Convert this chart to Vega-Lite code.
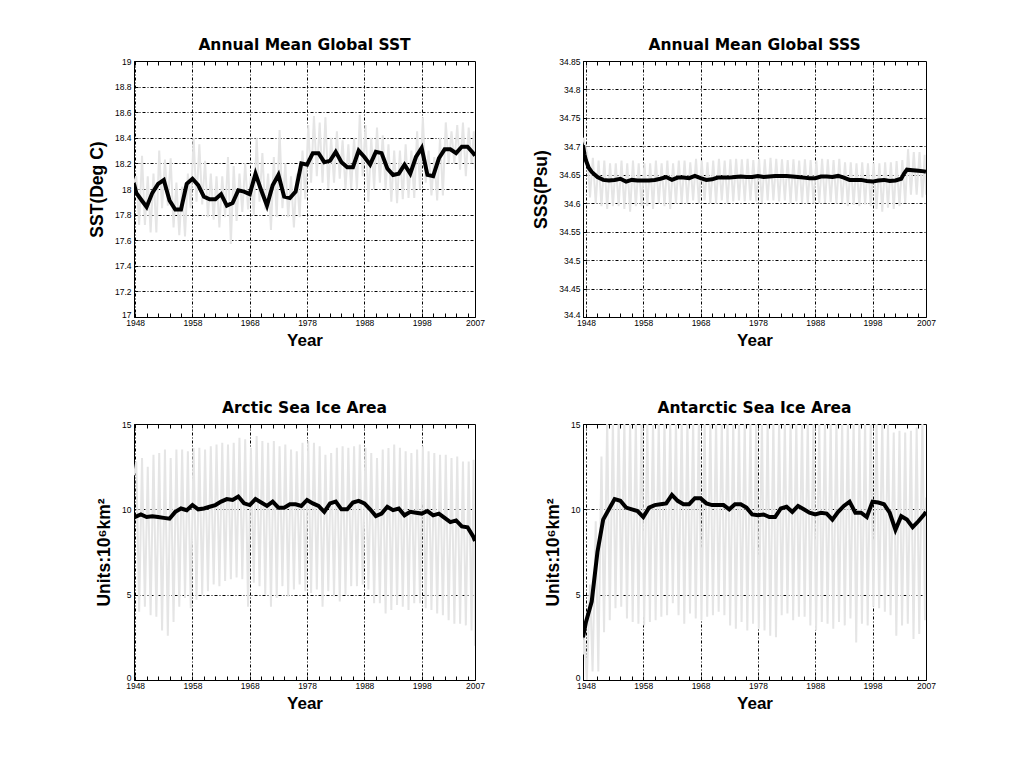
{
"$schema":"https://vega.github.io/schema/vega-lite/v6.json",
"background":"white",
"padding":{"left":87,"top":37,"right":5,"bottom":5},
"datasets":{
"sst_m":[{"t":1947.8,"v":18.05},{"t":1948.2,"v":18.1},{"t":1948.7,"v":17.72},{"t":1949.2,"v":18.26},{"t":1949.7,"v":17.72},{"t":1950.2,"v":18.1},{"t":1950.7,"v":17.66},{"t":1951.2,"v":18.12},{"t":1951.7,"v":17.66},{"t":1952.2,"v":18.3},{"t":1952.7,"v":17.85},{"t":1953.2,"v":18.23},{"t":1953.7,"v":17.87},{"t":1954.2,"v":18.24},{"t":1954.7,"v":17.7},{"t":1955.2,"v":18.05},{"t":1955.7,"v":17.64},{"t":1956.2,"v":18.02},{"t":1956.7,"v":17.63},{"t":1957.2,"v":18.12},{"t":1957.7,"v":17.85},{"t":1958.2,"v":18.4},{"t":1958.7,"v":17.9},{"t":1959.2,"v":18.35},{"t":1959.7,"v":17.88},{"t":1960.2,"v":18.22},{"t":1960.7,"v":17.78},{"t":1961.2,"v":18.12},{"t":1961.7,"v":17.76},{"t":1962.2,"v":18.1},{"t":1962.7,"v":17.7},{"t":1963.2,"v":18.1},{"t":1963.7,"v":17.78},{"t":1964.2,"v":18.25},{"t":1964.7,"v":17.57},{"t":1965.2,"v":18.18},{"t":1965.7,"v":17.75},{"t":1966.2,"v":18.12},{"t":1966.7,"v":17.82},{"t":1967.2,"v":18.2},{"t":1967.7,"v":17.84},{"t":1968.2,"v":18.1},{"t":1968.7,"v":17.8},{"t":1969.2,"v":18.4},{"t":1969.7,"v":17.9},{"t":1970.2,"v":18.28},{"t":1970.7,"v":17.84},{"t":1971.2,"v":18.12},{"t":1971.7,"v":17.68},{"t":1972.2,"v":18.25},{"t":1972.7,"v":17.78},{"t":1973.2,"v":18.46},{"t":1973.7,"v":17.85},{"t":1974.2,"v":18.2},{"t":1974.7,"v":17.78},{"t":1975.2,"v":18.1},{"t":1975.7,"v":17.7},{"t":1976.2,"v":18.12},{"t":1976.7,"v":17.78},{"t":1977.2,"v":18.3},{"t":1977.7,"v":17.92},{"t":1978.2,"v":18.5},{"t":1978.7,"v":18.05},{"t":1979.2,"v":18.57},{"t":1979.7,"v":18.1},{"t":1980.2,"v":18.52},{"t":1980.7,"v":18.05},{"t":1981.2,"v":18.56},{"t":1981.7,"v":18.0},{"t":1982.2,"v":18.4},{"t":1982.7,"v":18.05},{"t":1983.2,"v":18.45},{"t":1983.7,"v":18.08},{"t":1984.2,"v":18.38},{"t":1984.7,"v":18.0},{"t":1985.2,"v":18.35},{"t":1985.7,"v":18.0},{"t":1986.2,"v":18.4},{"t":1986.7,"v":18.0},{"t":1987.2,"v":18.58},{"t":1987.7,"v":18.1},{"t":1988.2,"v":18.5},{"t":1988.7,"v":17.9},{"t":1989.2,"v":18.4},{"t":1989.7,"v":18.0},{"t":1990.2,"v":18.48},{"t":1990.7,"v":18.05},{"t":1991.2,"v":18.42},{"t":1991.7,"v":18.0},{"t":1992.2,"v":18.35},{"t":1992.7,"v":17.9},{"t":1993.2,"v":18.3},{"t":1993.7,"v":17.89},{"t":1994.2,"v":18.3},{"t":1994.7,"v":17.92},{"t":1995.2,"v":18.35},{"t":1995.7,"v":17.93},{"t":1996.2,"v":18.3},{"t":1996.7,"v":17.93},{"t":1997.2,"v":18.45},{"t":1997.7,"v":18.0},{"t":1998.2,"v":18.56},{"t":1998.7,"v":18.05},{"t":1999.2,"v":18.3},{"t":1999.7,"v":17.95},{"t":2000.2,"v":18.25},{"t":2000.7,"v":17.91},{"t":2001.2,"v":18.4},{"t":2001.7,"v":17.95},{"t":2002.2,"v":18.52},{"t":2002.7,"v":18.2},{"t":2003.2,"v":18.45},{"t":2003.7,"v":18.2},{"t":2004.2,"v":18.5},{"t":2004.7,"v":18.15},{"t":2005.2,"v":18.52},{"t":2005.7,"v":18.1},{"t":2006.2,"v":18.48},{"t":2006.7,"v":18.2},{"t":2007.1,"v":18.45},{"t":2007.3,"v":18.15}],
"sst_a":[{"t":1947.8,"v":18.04},{"t":1948.2,"v":17.97},{"t":1949,"v":17.92},{"t":1950,"v":17.86},{"t":1951,"v":17.97},{"t":1952,"v":18.04},{"t":1953,"v":18.07},{"t":1954,"v":17.91},{"t":1955,"v":17.84},{"t":1956,"v":17.84},{"t":1957,"v":18.04},{"t":1958,"v":18.08},{"t":1959,"v":18.03},{"t":1960,"v":17.94},{"t":1961,"v":17.92},{"t":1962,"v":17.92},{"t":1963,"v":17.96},{"t":1964,"v":17.87},{"t":1965,"v":17.89},{"t":1966,"v":17.99},{"t":1967,"v":17.98},{"t":1968,"v":17.96},{"t":1969,"v":18.12},{"t":1970,"v":17.99},{"t":1971,"v":17.87},{"t":1972,"v":18.03},{"t":1973,"v":18.11},{"t":1974,"v":17.94},{"t":1975,"v":17.93},{"t":1976,"v":17.98},{"t":1977,"v":18.2},{"t":1978,"v":18.19},{"t":1979,"v":18.28},{"t":1980,"v":18.28},{"t":1981,"v":18.21},{"t":1982,"v":18.22},{"t":1983,"v":18.29},{"t":1984,"v":18.21},{"t":1985,"v":18.17},{"t":1986,"v":18.17},{"t":1987,"v":18.3},{"t":1988,"v":18.25},{"t":1989,"v":18.19},{"t":1990,"v":18.29},{"t":1991,"v":18.28},{"t":1992,"v":18.16},{"t":1993,"v":18.11},{"t":1994,"v":18.12},{"t":1995,"v":18.19},{"t":1996,"v":18.12},{"t":1997,"v":18.25},{"t":1998,"v":18.32},{"t":1999,"v":18.11},{"t":2000,"v":18.1},{"t":2001,"v":18.24},{"t":2002,"v":18.31},{"t":2003,"v":18.31},{"t":2004,"v":18.28},{"t":2005,"v":18.33},{"t":2006,"v":18.33},{"t":2007,"v":18.28},{"t":2007.3,"v":18.26}],
"sss_m":[{"t":1947.48,"v":34.715},{"t":1948.2,"v":34.69},{"t":1948.7,"v":34.61},{"t":1949.2,"v":34.68},{"t":1949.7,"v":34.6},{"t":1950.2,"v":34.675},{"t":1950.7,"v":34.595},{"t":1951.2,"v":34.675},{"t":1951.7,"v":34.59},{"t":1952.2,"v":34.67},{"t":1952.7,"v":34.595},{"t":1953.2,"v":34.67},{"t":1953.7,"v":34.595},{"t":1954.2,"v":34.675},{"t":1954.7,"v":34.59},{"t":1955.2,"v":34.67},{"t":1955.7,"v":34.585},{"t":1956.2,"v":34.675},{"t":1956.7,"v":34.595},{"t":1957.2,"v":34.67},{"t":1957.7,"v":34.595},{"t":1958.2,"v":34.67},{"t":1958.7,"v":34.595},{"t":1959.2,"v":34.67},{"t":1959.7,"v":34.59},{"t":1960.2,"v":34.675},{"t":1960.7,"v":34.6},{"t":1961.2,"v":34.67},{"t":1961.7,"v":34.595},{"t":1962.2,"v":34.675},{"t":1962.7,"v":34.59},{"t":1963.2,"v":34.67},{"t":1963.7,"v":34.6},{"t":1964.2,"v":34.675},{"t":1964.7,"v":34.6},{"t":1965.2,"v":34.675},{"t":1965.7,"v":34.6},{"t":1966.2,"v":34.672},{"t":1966.7,"v":34.605},{"t":1967.2,"v":34.678},{"t":1967.7,"v":34.6},{"t":1968.2,"v":34.675},{"t":1968.7,"v":34.605},{"t":1969.2,"v":34.672},{"t":1969.7,"v":34.6},{"t":1970.2,"v":34.675},{"t":1970.7,"v":34.6},{"t":1971.2,"v":34.678},{"t":1971.7,"v":34.605},{"t":1972.2,"v":34.675},{"t":1972.7,"v":34.6},{"t":1973.2,"v":34.677},{"t":1973.7,"v":34.603},{"t":1974.2,"v":34.678},{"t":1974.7,"v":34.605},{"t":1975.2,"v":34.677},{"t":1975.7,"v":34.603},{"t":1976.2,"v":34.678},{"t":1976.7,"v":34.605},{"t":1977.2,"v":34.676},{"t":1977.7,"v":34.603},{"t":1978.2,"v":34.678},{"t":1978.7,"v":34.6},{"t":1979.2,"v":34.677},{"t":1979.7,"v":34.605},{"t":1980.2,"v":34.68},{"t":1980.7,"v":34.605},{"t":1981.2,"v":34.678},{"t":1981.7,"v":34.603},{"t":1982.2,"v":34.677},{"t":1982.7,"v":34.605},{"t":1983.2,"v":34.676},{"t":1983.7,"v":34.6},{"t":1984.2,"v":34.677},{"t":1984.7,"v":34.603},{"t":1985.2,"v":34.675},{"t":1985.7,"v":34.6},{"t":1986.2,"v":34.677},{"t":1986.7,"v":34.6},{"t":1987.2,"v":34.676},{"t":1987.7,"v":34.6},{"t":1988.2,"v":34.675},{"t":1988.7,"v":34.6},{"t":1989.2,"v":34.678},{"t":1989.7,"v":34.6},{"t":1990.2,"v":34.677},{"t":1990.7,"v":34.602},{"t":1991.2,"v":34.676},{"t":1991.7,"v":34.6},{"t":1992.2,"v":34.678},{"t":1992.7,"v":34.6},{"t":1993.2,"v":34.672},{"t":1993.7,"v":34.595},{"t":1994.2,"v":34.672},{"t":1994.7,"v":34.597},{"t":1995.2,"v":34.67},{"t":1995.7,"v":34.595},{"t":1996.2,"v":34.672},{"t":1996.7,"v":34.598},{"t":1997.2,"v":34.67},{"t":1997.7,"v":34.595},{"t":1998.2,"v":34.67},{"t":1998.7,"v":34.59},{"t":1999.2,"v":34.67},{"t":1999.7,"v":34.585},{"t":2000.2,"v":34.672},{"t":2000.7,"v":34.592},{"t":2001.2,"v":34.672},{"t":2001.7,"v":34.59},{"t":2002.2,"v":34.674},{"t":2002.7,"v":34.595},{"t":2003.2,"v":34.676},{"t":2003.7,"v":34.6},{"t":2004.2,"v":34.695},{"t":2004.7,"v":34.615},{"t":2005.2,"v":34.69},{"t":2005.7,"v":34.615},{"t":2006.2,"v":34.69},{"t":2006.7,"v":34.61},{"t":2007.1,"v":34.685},{"t":2007.33,"v":34.615}],
"sss_a":[{"t":1947.48,"v":34.702},{"t":1947.75,"v":34.685},{"t":1948,"v":34.675},{"t":1948.5,"v":34.662},{"t":1949,"v":34.655},{"t":1950,"v":34.646},{"t":1951,"v":34.641},{"t":1952,"v":34.64},{"t":1953,"v":34.641},{"t":1954,"v":34.643},{"t":1955,"v":34.638},{"t":1956,"v":34.641},{"t":1957,"v":34.64},{"t":1958,"v":34.64},{"t":1959,"v":34.64},{"t":1960,"v":34.641},{"t":1961,"v":34.643},{"t":1962,"v":34.646},{"t":1963,"v":34.641},{"t":1964,"v":34.645},{"t":1965,"v":34.645},{"t":1966,"v":34.644},{"t":1967,"v":34.648},{"t":1968,"v":34.644},{"t":1969,"v":34.641},{"t":1970,"v":34.642},{"t":1971,"v":34.645},{"t":1972,"v":34.645},{"t":1973,"v":34.645},{"t":1974,"v":34.646},{"t":1975,"v":34.647},{"t":1976,"v":34.646},{"t":1977,"v":34.646},{"t":1978,"v":34.648},{"t":1979,"v":34.646},{"t":1980,"v":34.647},{"t":1981,"v":34.648},{"t":1982,"v":34.648},{"t":1983,"v":34.648},{"t":1984,"v":34.647},{"t":1985,"v":34.646},{"t":1986,"v":34.645},{"t":1987,"v":34.644},{"t":1988,"v":34.644},{"t":1989,"v":34.647},{"t":1990,"v":34.647},{"t":1991,"v":34.646},{"t":1992,"v":34.648},{"t":1993,"v":34.645},{"t":1994,"v":34.641},{"t":1995,"v":34.641},{"t":1996,"v":34.641},{"t":1997,"v":34.639},{"t":1998,"v":34.638},{"t":1999,"v":34.64},{"t":2000,"v":34.641},{"t":2001,"v":34.639},{"t":2002,"v":34.64},{"t":2003,"v":34.643},{"t":2003.5,"v":34.652},{"t":2004,"v":34.659},{"t":2005,"v":34.658},{"t":2006,"v":34.657},{"t":2007,"v":34.656},{"t":2007.33,"v":34.655}],
"arc_m":[{"t":1947.8,"v":12.0},{"t":1948.2,"v":12.8},{"t":1948.7,"v":4.0},{"t":1949.2,"v":13.0},{"t":1949.7,"v":4.3},{"t":1950.2,"v":12.5},{"t":1950.7,"v":3.8},{"t":1951.2,"v":13.2},{"t":1951.7,"v":3.7},{"t":1952.2,"v":13.3},{"t":1952.7,"v":2.9},{"t":1953.2,"v":13.5},{"t":1953.7,"v":2.6},{"t":1954.2,"v":13.0},{"t":1954.7,"v":3.4},{"t":1955.2,"v":13.5},{"t":1955.7,"v":4.3},{"t":1956.2,"v":13.5},{"t":1956.7,"v":4.8},{"t":1957.2,"v":13.4},{"t":1957.7,"v":4.2},{"t":1958.2,"v":13.6},{"t":1958.7,"v":4.7},{"t":1959.2,"v":13.6},{"t":1959.7,"v":5.0},{"t":1960.2,"v":13.5},{"t":1960.7,"v":5.2},{"t":1961.2,"v":13.7},{"t":1961.7,"v":5.6},{"t":1962.2,"v":13.8},{"t":1962.7,"v":5.5},{"t":1963.2,"v":13.9},{"t":1963.7,"v":5.8},{"t":1964.2,"v":13.8},{"t":1964.7,"v":5.9},{"t":1965.2,"v":13.9},{"t":1965.7,"v":6.0},{"t":1966.2,"v":14.2},{"t":1966.7,"v":5.9},{"t":1967.2,"v":14.1},{"t":1967.7,"v":4.3},{"t":1968.2,"v":13.6},{"t":1968.7,"v":5.7},{"t":1969.2,"v":14.3},{"t":1969.7,"v":5.5},{"t":1970.2,"v":14.0},{"t":1970.7,"v":5.0},{"t":1971.2,"v":13.9},{"t":1971.7,"v":4.3},{"t":1972.2,"v":14.0},{"t":1972.7,"v":4.8},{"t":1973.2,"v":13.7},{"t":1973.7,"v":5.5},{"t":1974.2,"v":13.8},{"t":1974.7,"v":4.9},{"t":1975.2,"v":13.5},{"t":1975.7,"v":5.3},{"t":1976.2,"v":13.4},{"t":1976.7,"v":5.6},{"t":1977.2,"v":13.9},{"t":1977.7,"v":5.2},{"t":1978.2,"v":14.0},{"t":1978.7,"v":5.1},{"t":1979.2,"v":13.9},{"t":1979.7,"v":5.3},{"t":1980.2,"v":13.7},{"t":1980.7,"v":4.3},{"t":1981.2,"v":13.2},{"t":1981.7,"v":5.2},{"t":1982.2,"v":13.3},{"t":1982.7,"v":4.9},{"t":1983.2,"v":13.6},{"t":1983.7,"v":4.6},{"t":1984.2,"v":13.7},{"t":1984.7,"v":5.0},{"t":1985.2,"v":13.6},{"t":1985.7,"v":5.5},{"t":1986.2,"v":13.7},{"t":1986.7,"v":5.5},{"t":1987.2,"v":13.8},{"t":1987.7,"v":5.6},{"t":1988.2,"v":13.6},{"t":1988.7,"v":5.3},{"t":1989.2,"v":13.3},{"t":1989.7,"v":4.5},{"t":1990.2,"v":13.0},{"t":1990.7,"v":4.5},{"t":1991.2,"v":13.5},{"t":1991.7,"v":3.9},{"t":1992.2,"v":13.6},{"t":1992.7,"v":4.1},{"t":1993.2,"v":13.8},{"t":1993.7,"v":4.4},{"t":1994.2,"v":13.6},{"t":1994.7,"v":4.3},{"t":1995.2,"v":13.4},{"t":1995.7,"v":4.1},{"t":1996.2,"v":13.3},{"t":1996.7,"v":4.5},{"t":1997.2,"v":13.5},{"t":1997.7,"v":4.5},{"t":1998.2,"v":13.7},{"t":1998.7,"v":4.2},{"t":1999.2,"v":13.4},{"t":1999.7,"v":4.1},{"t":2000.2,"v":13.3},{"t":2000.7,"v":3.9},{"t":2001.2,"v":13.2},{"t":2001.7,"v":3.8},{"t":2002.2,"v":13.2},{"t":2002.7,"v":3.5},{"t":2003.2,"v":13.0},{"t":2003.7,"v":3.3},{"t":2004.2,"v":13.1},{"t":2004.7,"v":3.3},{"t":2005.2,"v":12.8},{"t":2005.7,"v":3.2},{"t":2006.2,"v":12.8},{"t":2006.7,"v":2.9},{"t":2007.05,"v":12.9},{"t":2007.3,"v":2.0}],
"arc_a":[{"t":1947.8,"v":9.5},{"t":1948,"v":9.55},{"t":1949,"v":9.7},{"t":1950,"v":9.55},{"t":1951,"v":9.6},{"t":1952,"v":9.55},{"t":1953,"v":9.5},{"t":1954,"v":9.45},{"t":1955,"v":9.85},{"t":1956,"v":10.05},{"t":1957,"v":9.95},{"t":1958,"v":10.25},{"t":1959,"v":10.0},{"t":1960,"v":10.05},{"t":1961,"v":10.15},{"t":1962,"v":10.25},{"t":1963,"v":10.45},{"t":1964,"v":10.6},{"t":1965,"v":10.55},{"t":1966,"v":10.75},{"t":1967,"v":10.35},{"t":1968,"v":10.25},{"t":1969,"v":10.6},{"t":1970,"v":10.4},{"t":1971,"v":10.2},{"t":1972,"v":10.45},{"t":1973,"v":10.1},{"t":1974,"v":10.1},{"t":1975,"v":10.3},{"t":1976,"v":10.3},{"t":1977,"v":10.2},{"t":1978,"v":10.55},{"t":1979,"v":10.35},{"t":1980,"v":10.2},{"t":1981,"v":9.85},{"t":1982,"v":10.35},{"t":1983,"v":10.45},{"t":1984,"v":10.0},{"t":1985,"v":10.0},{"t":1986,"v":10.4},{"t":1987,"v":10.5},{"t":1988,"v":10.35},{"t":1989,"v":10.0},{"t":1990,"v":9.6},{"t":1991,"v":9.75},{"t":1992,"v":10.15},{"t":1993,"v":9.95},{"t":1994,"v":10.05},{"t":1995,"v":9.65},{"t":1996,"v":9.85},{"t":1997,"v":9.8},{"t":1998,"v":9.75},{"t":1999,"v":9.9},{"t":2000,"v":9.65},{"t":2001,"v":9.75},{"t":2002,"v":9.5},{"t":2003,"v":9.25},{"t":2004,"v":9.35},{"t":2005,"v":9.0},{"t":2006,"v":8.95},{"t":2007,"v":8.4},{"t":2007.3,"v":8.15}],
"ant_m":[{"t":1947.48,"v":1.5},{"t":1947.7,"v":2.5},{"t":1948.15,"v":0.0},{"t":1948.7,"v":5.6},{"t":1949.15,"v":0.5},{"t":1949.7,"v":9.3},{"t":1950.15,"v":0.5},{"t":1950.7,"v":13.1},{"t":1951.15,"v":2.8},{"t":1951.7,"v":15.3},{"t":1952.15,"v":3.5},{"t":1952.7,"v":15.3},{"t":1953.15,"v":4.2},{"t":1953.7,"v":15.3},{"t":1954.15,"v":4.3},{"t":1954.7,"v":15.3},{"t":1955.15,"v":3.6},{"t":1955.7,"v":15.3},{"t":1956.15,"v":3.4},{"t":1956.7,"v":15.3},{"t":1957.15,"v":3.3},{"t":1957.7,"v":15.3},{"t":1958.15,"v":3.2},{"t":1958.7,"v":15.3},{"t":1959.15,"v":3.4},{"t":1959.7,"v":15.3},{"t":1960.15,"v":3.5},{"t":1960.7,"v":15.3},{"t":1961.15,"v":3.7},{"t":1961.7,"v":15.3},{"t":1962.15,"v":3.8},{"t":1962.7,"v":15.3},{"t":1963.15,"v":4.5},{"t":1963.7,"v":15.3},{"t":1964.15,"v":3.8},{"t":1964.7,"v":15.3},{"t":1965.15,"v":3.3},{"t":1965.7,"v":15.3},{"t":1966.15,"v":3.9},{"t":1966.7,"v":15.3},{"t":1967.15,"v":3.6},{"t":1967.7,"v":15.3},{"t":1968.15,"v":3.5},{"t":1968.7,"v":15.3},{"t":1969.15,"v":3.7},{"t":1969.7,"v":15.3},{"t":1970.15,"v":3.8},{"t":1970.7,"v":15.3},{"t":1971.15,"v":4.0},{"t":1971.7,"v":15.3},{"t":1972.15,"v":3.8},{"t":1972.7,"v":15.3},{"t":1973.15,"v":3.2},{"t":1973.7,"v":15.3},{"t":1974.15,"v":3.0},{"t":1974.7,"v":15.3},{"t":1975.15,"v":3.4},{"t":1975.7,"v":15.3},{"t":1976.15,"v":2.9},{"t":1976.7,"v":15.3},{"t":1977.15,"v":3.3},{"t":1977.7,"v":15.3},{"t":1978.15,"v":3.0},{"t":1978.7,"v":15.3},{"t":1979.15,"v":2.9},{"t":1979.7,"v":15.3},{"t":1980.15,"v":2.6},{"t":1980.7,"v":15.3},{"t":1981.15,"v":2.5},{"t":1981.7,"v":15.3},{"t":1982.15,"v":3.8},{"t":1982.7,"v":15.3},{"t":1983.15,"v":3.9},{"t":1983.7,"v":15.3},{"t":1984.15,"v":3.5},{"t":1984.7,"v":15.3},{"t":1985.15,"v":3.7},{"t":1985.7,"v":15.3},{"t":1986.15,"v":3.7},{"t":1986.7,"v":15.3},{"t":1987.15,"v":3.2},{"t":1987.7,"v":15.3},{"t":1988.15,"v":2.9},{"t":1988.7,"v":15.3},{"t":1989.15,"v":3.4},{"t":1989.7,"v":15.3},{"t":1990.15,"v":3.3},{"t":1990.7,"v":15.3},{"t":1991.15,"v":3.0},{"t":1991.7,"v":15.3},{"t":1992.15,"v":3.4},{"t":1992.7,"v":15.3},{"t":1993.15,"v":3.2},{"t":1993.7,"v":15.3},{"t":1994.15,"v":3.6},{"t":1994.7,"v":15.3},{"t":1995.15,"v":2.2},{"t":1995.7,"v":15.3},{"t":1996.15,"v":3.3},{"t":1996.7,"v":15.3},{"t":1997.15,"v":3.2},{"t":1997.7,"v":15.3},{"t":1998.15,"v":4.3},{"t":1998.7,"v":15.3},{"t":1999.15,"v":4.2},{"t":1999.7,"v":15.3},{"t":2000.15,"v":4.0},{"t":2000.7,"v":15.0},{"t":2001.15,"v":3.8},{"t":2001.7,"v":14.5},{"t":2002.15,"v":2.6},{"t":2002.7,"v":14.6},{"t":2003.15,"v":3.2},{"t":2003.7,"v":14.5},{"t":2004.15,"v":3.3},{"t":2004.7,"v":14.6},{"t":2005.15,"v":2.4},{"t":2005.7,"v":14.8},{"t":2006.15,"v":2.7},{"t":2006.7,"v":15.3},{"t":2007.15,"v":3.5},{"t":2007.33,"v":10.7}],
"ant_a":[{"t":1947.48,"v":2.5},{"t":1948,"v":3.4},{"t":1949,"v":4.6},{"t":1950,"v":7.5},{"t":1951,"v":9.4},{"t":1952,"v":10.0},{"t":1953,"v":10.6},{"t":1954,"v":10.5},{"t":1955,"v":10.1},{"t":1956,"v":10.0},{"t":1957,"v":9.9},{"t":1958,"v":9.55},{"t":1959,"v":10.1},{"t":1960,"v":10.25},{"t":1961,"v":10.3},{"t":1962,"v":10.35},{"t":1963,"v":10.85},{"t":1964,"v":10.5},{"t":1965,"v":10.3},{"t":1966,"v":10.3},{"t":1967,"v":10.65},{"t":1968,"v":10.65},{"t":1969,"v":10.35},{"t":1970,"v":10.25},{"t":1971,"v":10.25},{"t":1972,"v":10.25},{"t":1973,"v":10.0},{"t":1974,"v":10.3},{"t":1975,"v":10.3},{"t":1976,"v":10.1},{"t":1977,"v":9.7},{"t":1978,"v":9.65},{"t":1979,"v":9.7},{"t":1980,"v":9.55},{"t":1981,"v":9.55},{"t":1982,"v":10.05},{"t":1983,"v":10.15},{"t":1984,"v":9.85},{"t":1985,"v":10.2},{"t":1986,"v":10.0},{"t":1987,"v":9.8},{"t":1988,"v":9.7},{"t":1989,"v":9.8},{"t":1990,"v":9.75},{"t":1991,"v":9.4},{"t":1992,"v":9.85},{"t":1993,"v":10.2},{"t":1994,"v":10.45},{"t":1995,"v":9.8},{"t":1996,"v":9.8},{"t":1997,"v":9.55},{"t":1998,"v":10.45},{"t":1999,"v":10.4},{"t":2000,"v":10.3},{"t":2001,"v":9.8},{"t":2002,"v":8.8},{"t":2003,"v":9.6},{"t":2004,"v":9.4},{"t":2005,"v":8.95},{"t":2006,"v":9.3},{"t":2007,"v":9.7},{"t":2007.33,"v":9.85}]
},
"columns":2,
"bounds":"flush",
"spacing":{"row":107,"column":108},
"concat":[
{"width":341,"height":256,"title":{"text":"Annual Mean Global SST"},
 "encoding":{"y":{"field":"v","type":"quantitative","scale":{"domain":[17,19],"nice":false,"zero":false},"axis":{"values":[17,17.2,17.4,17.6,17.8,18,18.2,18.4,18.6,18.8,19],"format":".1~f","title":"SST(Deg C)","labelBaseline":{"condition":{"test":"datum.value == 17","value":"alphabetic"},"value":"middle"}}}},
 "layer":[
  {"data":{"name":"sst_m"},"mark":{"type":"line","color":"#e5e5e5","strokeWidth":2,"clip":true},
   "encoding":{"x":{"field":"t","type":"quantitative","scale":{"domain":[1947.8,2007.3],"nice":false,"zero":false},
     "axis":{"orient":"bottom","title":"Year","values":[1948,1950,1952,1954,1956,1958,1960,1962,1964,1966,1968,1970,1972,1974,1976,1978,1980,1982,1984,1986,1988,1990,1992,1994,1996,1998,2000,2002,2004,2006,2007.3],
       "labelExpr":"(datum.value - 1948) % 10 == 0 ? '' + datum.value : (datum.value > 2007 ? '2007' : '')",
       "gridOpacity":{"condition":{"test":"(datum.value - 1948) % 10 == 0","value":1},"value":0}}}}},
  {"data":{"name":"sst_a"},"mark":{"type":"line","color":"black","strokeWidth":4,"clip":true},
   "encoding":{"x":{"field":"t","type":"quantitative","scale":{"domain":[1947.8,2007.3],"nice":false,"zero":false},
     "axis":{"orient":"top","title":null,"labels":false,"grid":false,"values":[1948,1950,1952,1954,1956,1958,1960,1962,1964,1966,1968,1970,1972,1974,1976,1978,1980,1982,1984,1986,1988,1990,1992,1994,1996,1998,2000,2002,2004,2006]}}}}
 ],
 "resolve":{"axis":{"x":"independent"}}},
{"width":343,"height":256,"title":{"text":"Annual Mean Global SSS"},
 "encoding":{"y":{"field":"v","type":"quantitative","scale":{"domain":[34.4,34.85],"nice":false,"zero":false},"axis":{"values":[34.4,34.45,34.5,34.55,34.6,34.65,34.7,34.75,34.8,34.85],"format":".2~f","title":"SSS(Psu)","labelBaseline":{"condition":{"test":"datum.value < 34.41","value":"alphabetic"},"value":"middle"}}}},
 "layer":[
  {"data":{"name":"sss_m"},"mark":{"type":"line","color":"#e5e5e5","strokeWidth":2,"clip":true},
   "encoding":{"x":{"field":"t","type":"quantitative","scale":{"domain":[1947.48,2007.33],"nice":false,"zero":false},
     "axis":{"orient":"bottom","title":"Year","values":[1948,1950,1952,1954,1956,1958,1960,1962,1964,1966,1968,1970,1972,1974,1976,1978,1980,1982,1984,1986,1988,1990,1992,1994,1996,1998,2000,2002,2004,2006,2007.33],
       "labelExpr":"(datum.value - 1948) % 10 == 0 ? '' + datum.value : (datum.value > 2007 ? '2007' : '')",
       "gridOpacity":{"condition":{"test":"(datum.value - 1948) % 10 == 0","value":1},"value":0}}}}},
  {"data":{"name":"sss_a"},"mark":{"type":"line","color":"black","strokeWidth":4,"clip":true},
   "encoding":{"x":{"field":"t","type":"quantitative","scale":{"domain":[1947.48,2007.33],"nice":false,"zero":false},
     "axis":{"orient":"top","title":null,"labels":false,"grid":false,"values":[1948,1950,1952,1954,1956,1958,1960,1962,1964,1966,1968,1970,1972,1974,1976,1978,1980,1982,1984,1986,1988,1990,1992,1994,1996,1998,2000,2002,2004,2006]}}}}
 ],
 "resolve":{"axis":{"x":"independent"}}},
{"width":341,"height":256,"title":{"text":"Arctic Sea Ice Area"},
 "encoding":{"y":{"field":"v","type":"quantitative","scale":{"domain":[0,15],"nice":false,"zero":false},"axis":{"values":[0,5,10,15],"format":"d","title":"Units:10⁶km²","labelBaseline":{"condition":{"test":"datum.value == 0","value":"alphabetic"},"value":"middle"}}}},
 "layer":[
  {"data":{"name":"arc_m"},"mark":{"type":"line","color":"#e5e5e5","strokeWidth":2,"clip":true},
   "encoding":{"x":{"field":"t","type":"quantitative","scale":{"domain":[1947.8,2007.3],"nice":false,"zero":false},
     "axis":{"orient":"bottom","title":"Year","values":[1948,1950,1952,1954,1956,1958,1960,1962,1964,1966,1968,1970,1972,1974,1976,1978,1980,1982,1984,1986,1988,1990,1992,1994,1996,1998,2000,2002,2004,2006,2007.3],
       "labelExpr":"(datum.value - 1948) % 10 == 0 ? '' + datum.value : (datum.value > 2007 ? '2007' : '')",
       "gridOpacity":{"condition":{"test":"(datum.value - 1948) % 10 == 0","value":1},"value":0}}}}},
  {"data":{"name":"arc_a"},"mark":{"type":"line","color":"black","strokeWidth":4,"clip":true},
   "encoding":{"x":{"field":"t","type":"quantitative","scale":{"domain":[1947.8,2007.3],"nice":false,"zero":false},
     "axis":{"orient":"top","title":null,"labels":false,"grid":false,"values":[1948,1950,1952,1954,1956,1958,1960,1962,1964,1966,1968,1970,1972,1974,1976,1978,1980,1982,1984,1986,1988,1990,1992,1994,1996,1998,2000,2002,2004,2006]}}}}
 ],
 "resolve":{"axis":{"x":"independent"}}},
{"width":343,"height":256,"title":{"text":"Antarctic Sea Ice Area"},
 "encoding":{"y":{"field":"v","type":"quantitative","scale":{"domain":[0,15],"nice":false,"zero":false},"axis":{"values":[0,5,10,15],"format":"d","title":"Units:10⁶km²","labelBaseline":{"condition":{"test":"datum.value == 0","value":"alphabetic"},"value":"middle"}}}},
 "layer":[
  {"data":{"name":"ant_m"},"mark":{"type":"line","color":"#e5e5e5","strokeWidth":2,"clip":true},
   "encoding":{"x":{"field":"t","type":"quantitative","scale":{"domain":[1947.48,2007.33],"nice":false,"zero":false},
     "axis":{"orient":"bottom","title":"Year","values":[1948,1950,1952,1954,1956,1958,1960,1962,1964,1966,1968,1970,1972,1974,1976,1978,1980,1982,1984,1986,1988,1990,1992,1994,1996,1998,2000,2002,2004,2006,2007.33],
       "labelExpr":"(datum.value - 1948) % 10 == 0 ? '' + datum.value : (datum.value > 2007 ? '2007' : '')",
       "gridOpacity":{"condition":{"test":"(datum.value - 1948) % 10 == 0","value":1},"value":0}}}}},
  {"data":{"name":"ant_a"},"mark":{"type":"line","color":"black","strokeWidth":4,"clip":true},
   "encoding":{"x":{"field":"t","type":"quantitative","scale":{"domain":[1947.48,2007.33],"nice":false,"zero":false},
     "axis":{"orient":"top","title":null,"labels":false,"grid":false,"values":[1948,1950,1952,1954,1956,1958,1960,1962,1964,1966,1968,1970,1972,1974,1976,1978,1980,1982,1984,1986,1988,1990,1992,1994,1996,1998,2000,2002,2004,2006]}}}}
 ],
 "resolve":{"axis":{"x":"independent"}}}
],
"config":{
 "view":{"stroke":"black","strokeWidth":1},
 "font":"Liberation Sans",
 "axis":{"labelFont":"Liberation Sans","labelFontSize":8.5,"labelColor":"black","tickColor":"black","tickSize":-4,"tickWidth":1,"labelPadding":7,"domain":false,"grid":true,"gridColor":"black","gridDash":[3,2,1,2],"gridOpacity":1,"gridWidth":1,"titleFont":"Liberation Sans","titleFontSize":17,"titleFontWeight":"bold","titleColor":"black","labelOverlap":false,"labelFlush":false},
 "axisX":{"titlePadding":6,"labelPadding":5},
 "axisY":{"titlePadding":8,"titleFontSize":17.5},
 "title":{"font":"DejaVu Sans","fontSize":15.5,"fontWeight":"bold","color":"black","offset":3.5}
}
}
